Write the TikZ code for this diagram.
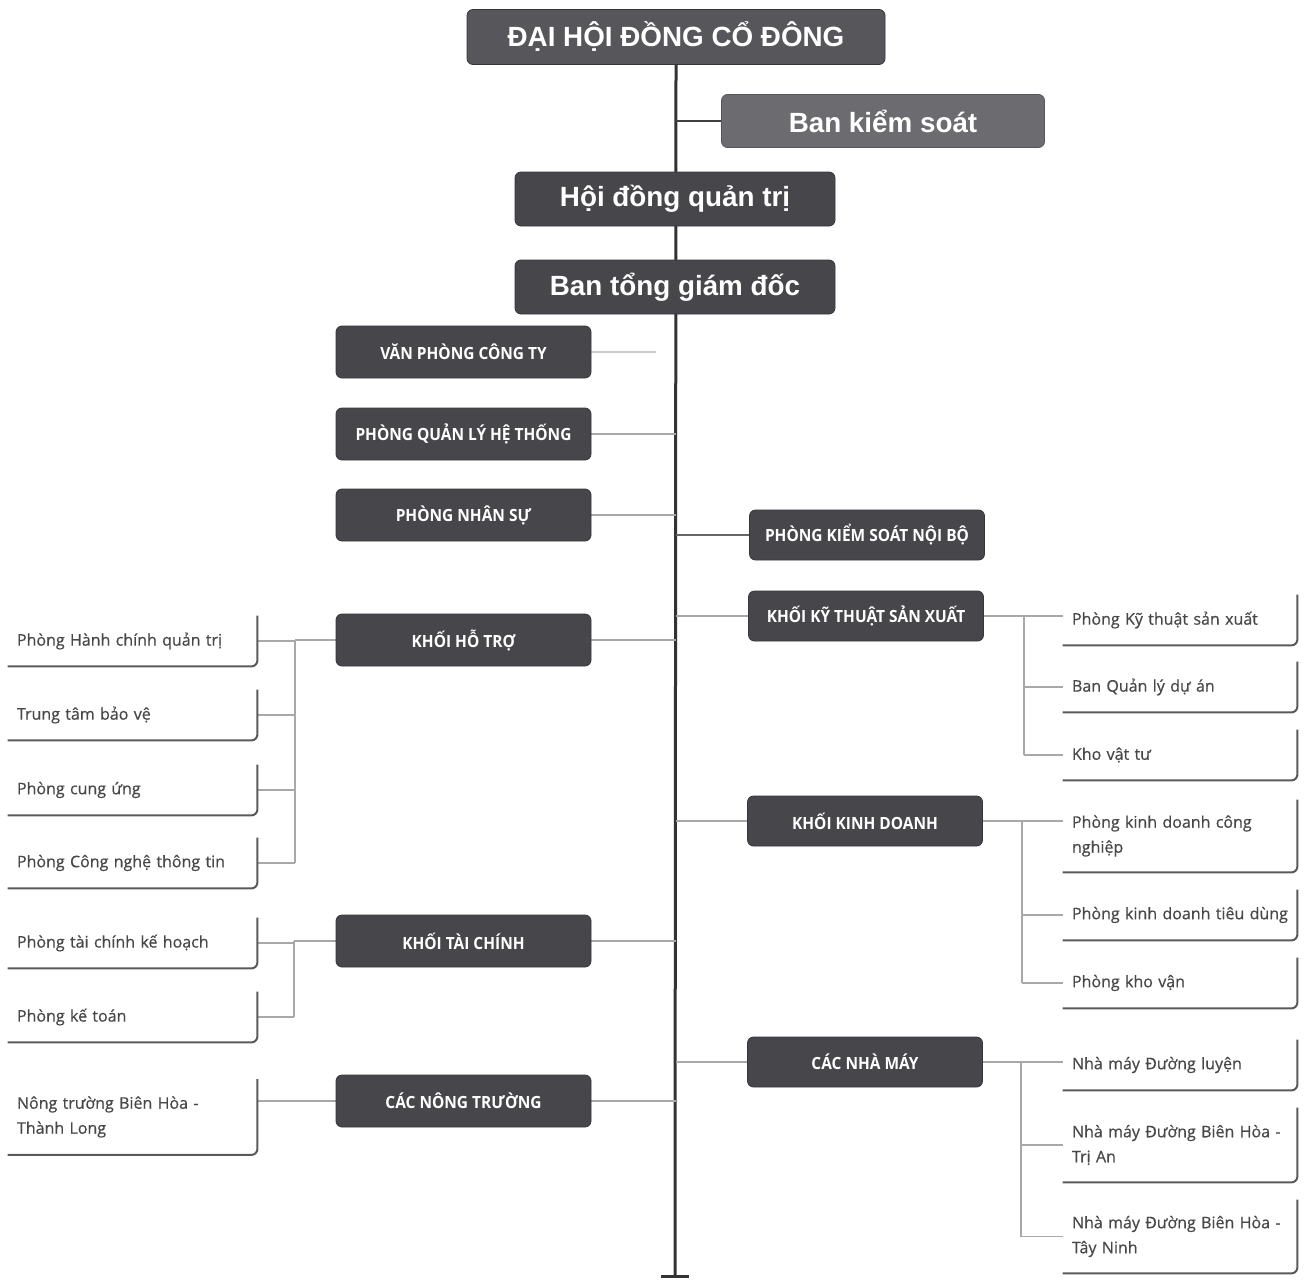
\documentclass[tikz,border=0pt]{standalone}
\usepackage{fontspec}
\newfontfamily\headfont{Liberation Sans}
\newfontfamily\capfont[FakeStretch=0.92]{Open Sans}
\newfontfamily\bodyfont[FakeBold=0.6]{Open Sans}
\usetikzlibrary{backgrounds,calc}
\definecolor{boxgray}{HTML}{47474B}
\definecolor{boxedge}{HTML}{36363A}
\definecolor{topgray}{HTML}{56565B}
\definecolor{bksgray}{HTML}{6B6B70}
\definecolor{txtgray}{HTML}{484848}
\definecolor{linegray}{HTML}{A8A8A8}
\definecolor{shadowgray}{HTML}{5A5A5A}
\tikzset{
  dbox/.style={fill=boxgray, draw=boxedge, rounded corners=3pt, text=white, inner sep=0pt, align=center},
  bigbox/.style={dbox, font=\headfont\bfseries\fontsize{13.9}{16}\selectfont, minimum width=160pt, minimum height=27pt},
  capstyle/.style={font=\capfont\bfseries\fontsize{8.4}{10}\selectfont},
  lbox/.style={dbox, capstyle, minimum width=127.5pt, minimum height=26pt},
  rbox/.style={dbox, capstyle, minimum width=117.5pt, minimum height=25pt},
  wbox/.style={inner xsep=4.5pt, inner ysep=0pt, align=left, text=txtgray,
     font=\bodyfont\fontsize{8}{12.5}\selectfont, minimum height=25pt},
  wleft/.style={wbox, minimum width=124.5pt, text width=115.5pt},
  wright/.style={wbox, minimum width=117pt, text width=108pt},
  mainline/.style={line width=1.5pt, draw=black!80},
  subline/.style={line width=0.6pt, draw=linegray},
  midline/.style={line width=0.8pt, draw=black!60},
  shadowline/.style={line width=1pt, draw=shadowgray, rounded corners=3pt}
}
\begin{document}
\begin{tikzpicture}[x=0.5pt, y=-0.5pt]
\useasboundingbox (0,0) rectangle (1304,1279);
% top chain
\node[bigbox, fill=topgray, minimum width=209pt, minimum height=27.5pt] (dhcd) at (676,37) {ĐẠI HỘI ĐỒNG CỔ ĐÔNG};
\node[bigbox, fill=bksgray, draw=bksgray!80!black, minimum width=161.5pt, minimum height=26.5pt] (bks) at (883,121) {Ban kiểm soát};
\node[bigbox] (hdqt) at (675,199) {Hội đồng quản trị};
\node[bigbox] (btgd) at (675,287) {Ban tổng giám đốc};
\coordinate (mainend) at (675,1276);
% left dark boxes
\node[lbox] (vp) at (463.5,352) {VĂN PHÒNG CÔNG TY};
\node[lbox] (qlht) at (463.5,434) {PHÒNG QUẢN LÝ HỆ THỐNG};
\node[lbox] (ns) at (463.5,515) {PHÒNG NHÂN SỰ};
\node[lbox] (kht) at (463.5,640) {KHỐI HỖ TRỢ};
\node[lbox] (ktc) at (463.5,941) {KHỐI TÀI CHÍNH};
\node[lbox] (cnt) at (463.5,1101) {CÁC NÔNG TRƯỜNG};
% right dark boxes
\node[rbox] (pks) at (867,535) {PHÒNG KIỂM SOÁT NỘI BỘ};
\node[rbox] (kkt) at (866,616) {KHỐI KỸ THUẬT SẢN XUẤT};
\node[rbox] (kkd) at (865,821) {KHỐI KINH DOANH};
\node[rbox] (cnm) at (865,1062) {CÁC NHÀ MÁY};
% left white boxes
\node[wleft] (hc) at (132.5,641) {Phòng Hành chính quản trị};
\node[wleft] (tt) at (132.5,715) {Trung tâm bảo vệ};
\node[wleft] (cu) at (132.5,790) {Phòng cung ứng};
\node[wleft] (cntt) at (132.5,863) {Phòng Công nghệ thông tin};
\node[wleft] (tckh) at (132.5,943) {Phòng tài chính kế hoạch};
\node[wleft] (kt) at (132.5,1017) {Phòng kế toán};
\node[wleft, minimum height=37.5pt] (ntbh) at (132.5,1117) {Nông trường Biên Hòa -\\Thành Long};
% right white boxes
\node[wright] (pktsx) at (1180,620) {Phòng Kỹ thuật sản xuất};
\node[wright] (bqlda) at (1180,687) {Ban Quản lý dự án};
\node[wright] (kvt) at (1180,755) {Kho vật tư};
\node[wright, minimum height=36pt] (pkdcn) at (1180,836) {Phòng kinh doanh công\\nghiệp};
\node[wright] (pkdtd) at (1180,915) {\mbox{Phòng kinh doanh tiêu dùng}};
\node[wright] (pkv) at (1180,983) {Phòng kho vận};
\node[wright] (nmdl) at (1180,1065) {Nhà máy Đường luyện};
\node[wright, minimum height=37pt] (nmta) at (1180,1145) {Nhà máy Đường Biên Hòa -\\Trị An};
\node[wright, minimum height=36.5pt] (nmtn) at (1180,1236.5) {Nhà máy Đường Biên Hòa -\\Tây Ninh};
% shadow edges of white boxes
\foreach \n in {hc,tt,cu,cntt,tckh,kt,ntbh,pktsx,bqlda,kvt,pkdcn,pkdtd,pkv,nmdl,nmta,nmtn}
  \draw[shadowline] (\n.north east) -- (\n.south east) -- (\n.south west);
% bus coordinates
\coordinate (bhotro) at (295,640);
\coordinate (btaichinh) at (294,941);
\coordinate (bkythuat) at (1024,616);
\coordinate (bkinhdoanh) at (1022,821);
\coordinate (bnhamay) at (1021,1062);
\begin{scope}[on background layer]
  \draw[mainline] (dhcd.south) -- (mainend);
  \draw[mainline] ([xshift=-7pt]mainend) -- ([xshift=7pt]mainend);
  \draw[line width=1.2pt, draw=black!75] (bks.west) -- (bks.west -| dhcd.south);
  % left dark connectors
  \draw[subline, draw=linegray!60] (vp.east) -- ([xshift=-10pt]vp.east -| dhcd.south);
  \draw[subline] (qlht.east) -- (qlht.east -| dhcd.south);
  \draw[subline] (ns.east) -- (ns.east -| dhcd.south);
  \draw[subline] (kht.east) -- (kht.east -| dhcd.south);
  \draw[subline] (ktc.east) -- (ktc.east -| dhcd.south);
  \draw[subline] (cnt.east) -- (cnt.east -| dhcd.south);
  % right dark connectors
  \draw[midline] (pks.west) -- (pks.west -| dhcd.south);
  \draw[subline] (kkt.west) -- (kkt.west -| dhcd.south);
  \draw[subline] (kkd.west) -- (kkd.west -| dhcd.south);
  \draw[subline] (cnm.west) -- (cnm.west -| dhcd.south);
  % left buses
  \draw[subline] (kht.west) -- (bhotro);
  \draw[subline] (bhotro) -- (bhotro |- cntt.east);
  \draw[subline] (hc.east) -- (hc.east -| bhotro);
  \draw[subline] (tt.east) -- (tt.east -| bhotro);
  \draw[subline] (cu.east) -- (cu.east -| bhotro);
  \draw[subline] (cntt.east) -- (cntt.east -| bhotro);
  \draw[subline] (ktc.west) -- (btaichinh);
  \draw[subline] (btaichinh) -- (btaichinh |- kt.east);
  \draw[subline] (tckh.east) -- (tckh.east -| btaichinh);
  \draw[subline] (kt.east) -- (kt.east -| btaichinh);
  \draw[subline] (cnt.west) -- (cnt.west -| ntbh.east);
  % right buses
  \draw[subline] (kkt.east) -- (bkythuat);
  \draw[subline] (bkythuat) -- (bkythuat |- kvt.west);
  \draw[subline] (bkythuat) -- (bkythuat -| pktsx.west);
  \draw[subline] (bkythuat |- bqlda.west) -- (bqlda.west);
  \draw[subline] (bkythuat |- kvt.west) -- (kvt.west);
  \draw[subline] (kkd.east) -- (bkinhdoanh);
  \draw[subline] (bkinhdoanh) -- (bkinhdoanh |- pkv.west);
  \draw[subline] (bkinhdoanh) -- (bkinhdoanh -| pkdcn.west);
  \draw[subline] (bkinhdoanh |- pkdtd.west) -- (pkdtd.west);
  \draw[subline] (bkinhdoanh |- pkv.west) -- (pkv.west);
  \draw[subline] (cnm.east) -- (bnhamay);
  \draw[subline] (bnhamay) -- (bnhamay |- nmtn.west);
  \draw[subline] (bnhamay) -- (bnhamay -| nmdl.west);
  \draw[subline] (bnhamay |- nmta.west) -- (nmta.west);
  \draw[subline] (bnhamay |- nmtn.west) -- (nmtn.west);
\end{scope}
\end{tikzpicture}
\end{document}
